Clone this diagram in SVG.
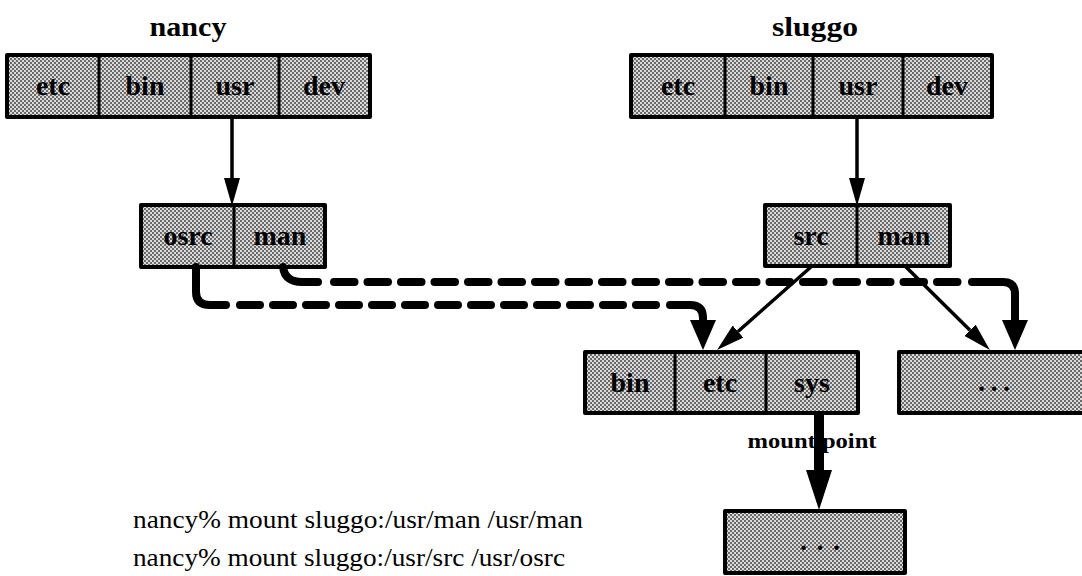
<svg xmlns="http://www.w3.org/2000/svg" width="1082" height="576" viewBox="0 0 1082 576">
<defs>
<pattern id="stip" width="4" height="4" patternUnits="userSpaceOnUse">
<rect width="4" height="4" fill="#dadada"/>
<rect width="2" height="2" fill="#6a6a6a"/>
<rect x="2" y="2" width="2" height="2" fill="#6a6a6a"/>
</pattern>
<marker id="hs" markerUnits="userSpaceOnUse" viewBox="0 0 28 16" refX="0" refY="8" markerWidth="28" markerHeight="16" orient="auto"><path d="M0,0 L28,8 L0,16 z" fill="#000"/></marker>
<marker id="hb" markerUnits="userSpaceOnUse" viewBox="0 0 30 26" refX="0" refY="13" markerWidth="30" markerHeight="26" orient="auto"><path d="M0,0 L30,13 L0,26 z" fill="#000"/></marker>
<marker id="hm" markerUnits="userSpaceOnUse" viewBox="0 0 40 26" refX="0" refY="13" markerWidth="40" markerHeight="26" orient="auto"><path d="M0,0 L40,13 L0,26 z" fill="#000"/></marker>
</defs>
<style>
.box{fill:url(#stip);stroke:#000;stroke-width:4;stroke-linejoin:round}
.div{stroke:#000;stroke-width:3}
.cell{font-family:"Liberation Serif",serif;font-weight:bold;font-size:28px;text-anchor:middle;fill:#000}
.dots{font-family:"Liberation Serif",serif;font-weight:bold;font-size:28px;fill:#000}
.head{font-family:"Liberation Serif",serif;font-weight:600;font-size:27px;text-anchor:middle;fill:#000}
.cmd{font-family:"Liberation Serif",serif;font-size:26px;fill:#000}
.lbl{font-family:"Liberation Serif",serif;font-weight:bold;font-size:20px;text-anchor:middle;fill:#000}
.thin{fill:none;stroke:#000;stroke-width:3.5}
.thick{fill:none;stroke:#000;stroke-width:8;stroke-linecap:round;stroke-linejoin:round}
.dash{stroke-dasharray:20 13}
</style>
<rect width="1082" height="576" fill="#fff"/>

<text class="head" x="188" y="36" textLength="77" lengthAdjust="spacingAndGlyphs">nancy</text>
<text class="head" x="815" y="36" textLength="86" lengthAdjust="spacingAndGlyphs">sluggo</text>

<g id="nancy-root">
<rect class="box" x="7" y="55" width="363" height="62"/>
<line class="div" x1="99" y1="55" x2="99" y2="117"/>
<line class="div" x1="191" y1="55" x2="191" y2="117"/>
<line class="div" x1="279" y1="55" x2="279" y2="117"/>
<text class="cell" x="53" y="95">etc</text>
<text class="cell" x="145" y="95">bin</text>
<text class="cell" x="235" y="95">usr</text>
<text class="cell" x="324" y="95">dev</text>
</g>

<g id="sluggo-root">
<rect class="box" x="631" y="55" width="361" height="62"/>
<line class="div" x1="725" y1="55" x2="725" y2="117"/>
<line class="div" x1="813" y1="55" x2="813" y2="117"/>
<line class="div" x1="903" y1="55" x2="903" y2="117"/>
<text class="cell" x="678" y="95">etc</text>
<text class="cell" x="769" y="95">bin</text>
<text class="cell" x="858" y="95">usr</text>
<text class="cell" x="947" y="95">dev</text>
</g>

<g id="nancy-usr">
<rect class="box" x="141" y="205" width="184" height="62"/>
<line class="div" x1="234" y1="205" x2="234" y2="267"/>
<text class="cell" x="188" y="245">osrc</text>
<text class="cell" x="280" y="245">man</text>
</g>

<g id="sluggo-usr">
<rect class="box" x="765" y="205" width="185" height="61"/>
<line class="div" x1="857" y1="205" x2="857" y2="266"/>
<text class="cell" x="811" y="245">src</text>
<text class="cell" x="904" y="245">man</text>
</g>

<g id="sluggo-src">
<rect class="box" x="585" y="352" width="273" height="61"/>
<line class="div" x1="675" y1="352" x2="675" y2="413"/>
<line class="div" x1="766" y1="352" x2="766" y2="413"/>
<text class="cell" x="630" y="392">bin</text>
<text class="cell" x="720" y="392">etc</text>
<text class="cell" x="812" y="392">sys</text>
</g>

<g id="sluggo-man">
<rect class="box" x="899" y="352" width="190" height="61"/>
<text class="dots" x="978" y="391" textLength="32" lengthAdjust="spacing">...</text>
</g>

<g id="sys-mounted">
<rect class="box" x="725" y="511" width="180" height="62"/>
<text class="dots" x="800" y="550" textLength="40" lengthAdjust="spacing">...</text>
</g>

<g id="connectors">
<path class="thin" d="M232,117 V178" marker-end="url(#hs)"/>
<path class="thin" d="M857,117 V178" marker-end="url(#hs)"/>
<path class="thin" d="M812,266 L738,331.5" marker-end="url(#hs)"/>
<path class="thin" d="M905,266 L970,330.3" marker-end="url(#hs)"/>

<path class="thick" d="M196,267 V292 Q196,305 210,305 H226"/>
<path class="thick dash" d="M240,305 H656"/>
<path class="thick" d="M670,305 H690 Q703,305 703,318 V320" marker-end="url(#hb)"/>

<path class="thick" d="M283,267 Q285,282 302,282 H318"/>
<path class="thick dash" style="stroke-dasharray:20.5 13" d="M334,282 H958"/>
<path class="thick" d="M972,282 H1003 Q1015,282 1015,294 V320" marker-end="url(#hb)"/>

<text class="lbl" x="812" y="448" textLength="129" lengthAdjust="spacingAndGlyphs">mount point</text>
<path d="M819,413 V470" fill="none" stroke="#000" stroke-width="10" marker-end="url(#hm)"/>
</g>

<text class="cmd" x="133" y="528" textLength="450" lengthAdjust="spacingAndGlyphs">nancy% mount sluggo:/usr/man /usr/man</text>
<text class="cmd" x="133" y="566" textLength="432" lengthAdjust="spacingAndGlyphs">nancy% mount sluggo:/usr/src /usr/osrc</text>
</svg>
